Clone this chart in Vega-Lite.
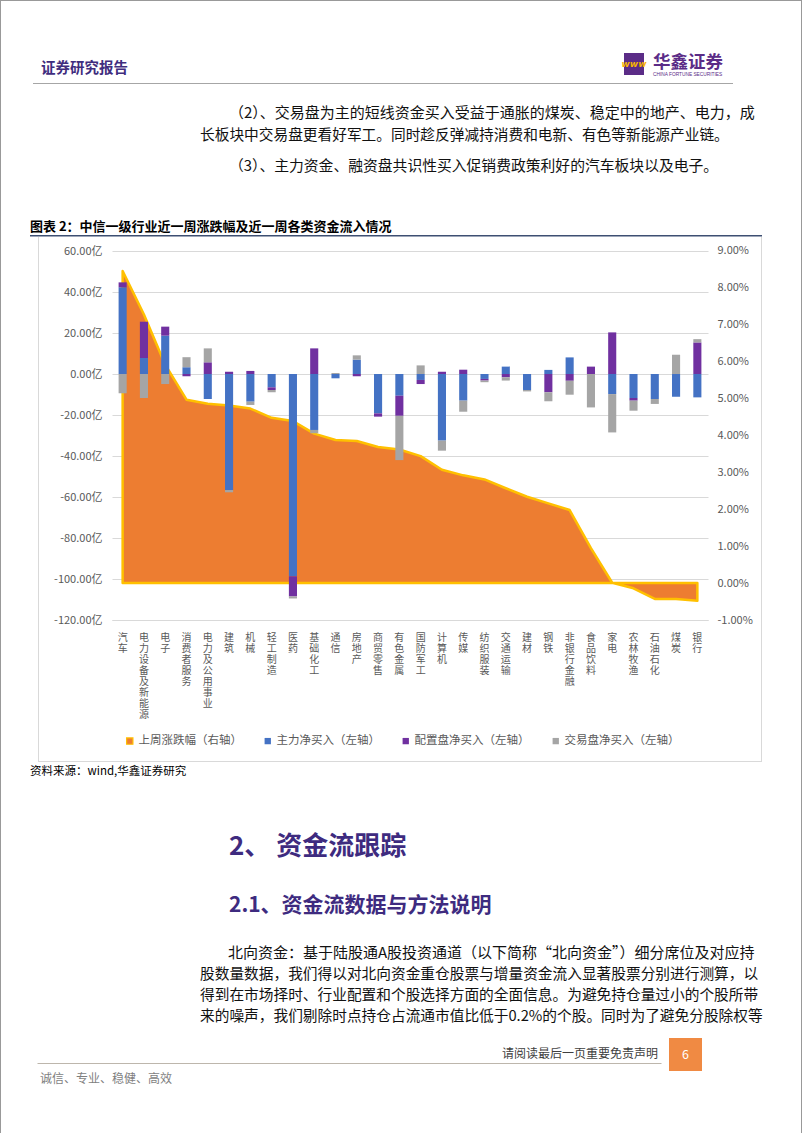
{
  "$schema": "https://vega.github.io/schema/vega-lite/v6.json",
  "background": "#ffffff",
  "padding": 0,
  "autosize": {"type": "pad"},
  "spacing": 0,
  "bounds": "full",
  "resolve": {"scale": {"color": "independent"}, "legend": {"color": "independent"}},
  "config": {
    "view": {"stroke": null},
    "font": "Noto Sans CJK SC",
    "concat": {"spacing": 0}
  },
  "hconcat": [
    {"width": 1, "height": 1133, "view": {"fill": "#999999", "stroke": null}, "data": {"values": []}, "mark": "text"},
    {
      "spacing": 0,
      "bounds": "full",
      "resolve": {"scale": {"color": "independent"}, "legend": {"color": "independent"}},
      "vconcat": [
        {"width": 800, "height": 1, "view": {"fill": "#999999", "stroke": null}, "data": {"values": []}, "mark": "text"},
        {"width": 800, "height": 52, "data": {"values": []}, "mark": "text"},
        {
          "spacing": 0, "bounds": "flush",
          "hconcat": [
            {"width": 623, "height": 30, "data": {"values": []}, "mark": "text",
             "title": {"text": "证券研究报告", "orient": "bottom", "anchor": "start", "frame": "group", "baseline": "top", "offset": -20.9, "dx": 40, "fontSize": 14.5, "fontWeight": "bold", "color": "#3F2D7E"}},
            {"width": 20, "height": 22, "view": {"fill": "#5B2C87", "stroke": null},
             "data": {"values": [{"g": "www"}]},
             "mark": {"type": "text", "color": "#F7B500", "fontSize": 9, "fontWeight": "bold", "fontStyle": "italic", "font": "DejaVu Sans"},
             "encoding": {"text": {"field": "g"}}},
            {"width": 157, "height": 30, "data": {"values": []}, "mark": "text",
             "title": {"text": "华鑫证券", "subtitle": "CHINA FORTUNE SECURITIES", "orient": "bottom", "anchor": "start", "frame": "group", "baseline": "top", "offset": -28.7, "dx": 9, "fontSize": 17.5, "fontWeight": "bold", "color": "#5B2C87", "subtitleFontSize": 4.8, "subtitleColor": "#5B2C87", "subtitleFont": "Liberation Sans", "subtitlePadding": 0.4}}
          ]
        },
        {
          "spacing": 0, "bounds": "flush",
          "hconcat": [
            {"width": 32, "height": 1, "data": {"values": []}, "mark": "text"},
            {"width": 700, "height": 1, "view": {"fill": "#A6A6A6", "stroke": null}, "data": {"values": []}, "mark": "text"}
          ]
        },
        {"width": 800, "height": 37, "data": {"values": []}, "mark": "text",
         "title": {"text": "（2）、交易盘为主的短线资金买入受益于通胀的煤炭、稳定中的地产、电力，成", "orient": "bottom", "anchor": "start", "frame": "group", "baseline": "top", "offset": -15, "dx": 228, "fontSize": 15, "fontWeight": "normal", "color": "#111111"}},
        {"width": 800, "height": 29, "data": {"values": []}, "mark": "text",
         "title": {"text": "长板块中交易盘更看好军工。同时趁反弹减持消费和电新、有色等新能源产业链。", "orient": "bottom", "anchor": "start", "frame": "group", "baseline": "top", "offset": -22, "dx": 199, "fontSize": 14.7, "fontWeight": "normal", "color": "#111111"}},
        {"width": 800, "height": 65, "data": {"values": []}, "mark": "text",
         "title": {"text": "（3）、主力资金、融资盘共识性买入促销费政策利好的汽车板块以及电子。", "orient": "bottom", "anchor": "start", "frame": "group", "baseline": "top", "offset": -56, "dx": 228, "fontSize": 14.8, "fontWeight": "normal", "color": "#111111"}},
        {"width": 800, "height": 19.5, "data": {"values": []}, "mark": "text",
         "title": {"text": "图表 2：中信一级行业近一周涨跌幅及近一周各类资金流入情况", "orient": "bottom", "anchor": "start", "frame": "group", "baseline": "top", "offset": -13.8, "dx": 29, "fontSize": 13, "fontWeight": "bold", "color": "#000000"}},
        {
          "spacing": 0, "bounds": "flush",
          "hconcat": [
            {"width": 29, "height": 1.5, "data": {"values": []}, "mark": "text"},
            {"width": 732, "height": 1.5, "view": {"fill": "#3D4F72", "stroke": null}, "data": {"values": []}, "mark": "text"}
          ]
        },
        {
          "spacing": 0, "bounds": "flush",
          "resolve": {"scale": {"color": "independent"}, "legend": {"color": "independent"}},
          "hconcat": [
            {"width": 37, "height": 524, "data": {"values": []}, "mark": "text"},
            {"width": 1, "height": 524, "view": {"fill": "#D9D9D9", "stroke": null}, "data": {"values": []}, "mark": "text"},
            {"width": 73, "height": 524, "data": {"values": []}, "mark": "text"},
            {
              "width": 596,
              "height": 383,
              "data": {"values": [
                {"industry": "汽车", "上周涨跌幅（右轴）": 8.46, "主力净买入（左轴）": 42.3, "配置盘净买入（左轴）": 2.4, "交易盘净买入（左轴）": -9.4},
                {"industry": "电力设备及新能源", "上周涨跌幅（右轴）": 7.28, "主力净买入（左轴）": 7.8, "配置盘净买入（左轴）": 17.7, "交易盘净买入（左轴）": -11.7},
                {"industry": "电子", "上周涨跌幅（右轴）": 5.92, "主力净买入（左轴）": 18.7, "配置盘净买入（左轴）": 4.4, "交易盘净买入（左轴）": -4.9},
                {"industry": "消费者服务", "上周涨跌幅（右轴）": 4.97, "主力净买入（左轴）": 3.3, "配置盘净买入（左轴）": -1.1, "交易盘净买入（左轴）": 4.9},
                {"industry": "电力及公用事业", "上周涨跌幅（右轴）": 4.86, "主力净买入（左轴）": -12.2, "配置盘净买入（左轴）": 5.7, "交易盘净买入（左轴）": 6.8},
                {"industry": "建筑", "上周涨跌幅（右轴）": 4.81, "主力净买入（左轴）": -56.6, "配置盘净买入（左轴）": 1.1, "交易盘净买入（左轴）": -1.1},
                {"industry": "机械", "上周涨跌幅（右轴）": 4.73, "主力净买入（左轴）": -13.5, "配置盘净买入（左轴）": 1.5, "交易盘净买入（左轴）": -1.6},
                {"industry": "轻工制造", "上周涨跌幅（右轴）": 4.48, "主力净买入（左轴）": -6.5, "配置盘净买入（左轴）": -1.3, "交易盘净买入（左轴）": -1.1},
                {"industry": "医药", "上周涨跌幅（右轴）": 4.39, "主力净买入（左轴）": -98.7, "配置盘净买入（左轴）": -9.8, "交易盘净买入（左轴）": -1.0},
                {"industry": "基础化工", "上周涨跌幅（右轴）": 4.05, "主力净买入（左轴）": -27.3, "配置盘净买入（左轴）": 12.5, "交易盘净买入（左轴）": -1.6},
                {"industry": "通信", "上周涨跌幅（右轴）": 3.88, "主力净买入（左轴）": -2.1, "配置盘净买入（左轴）": 0, "交易盘净买入（左轴）": 0.5},
                {"industry": "房地产", "上周涨跌幅（右轴）": 3.85, "主力净买入（左轴）": 7.0, "配置盘净买入（左轴）": -1.1, "交易盘净买入（左轴）": 2.1},
                {"industry": "商贸零售", "上周涨跌幅（右轴）": 3.69, "主力净买入（左轴）": -19.2, "配置盘净买入（左轴）": -1.6, "交易盘净买入（左轴）": 0},
                {"industry": "有色金属", "上周涨跌幅（右轴）": 3.62, "主力净买入（左轴）": -10.6, "配置盘净买入（左轴）": -9.8, "交易盘净买入（左轴）": -21.6},
                {"industry": "国防军工", "上周涨跌幅（右轴）": 3.44, "主力净买入（左轴）": -2.9, "配置盘净买入（左轴）": -2.0, "交易盘净买入（左轴）": 4.2},
                {"industry": "计算机", "上周涨跌幅（右轴）": 3.07, "主力净买入（左轴）": -32.5, "配置盘净买入（左轴）": 1.1, "交易盘净买入（左轴）": -4.9},
                {"industry": "传媒", "上周涨跌幅（右轴）": 2.92, "主力净买入（左轴）": -13.0, "配置盘净买入（左轴）": 2.1, "交易盘净买入（左轴）": -5.4},
                {"industry": "纺织服装", "上周涨跌幅（右轴）": 2.81, "主力净买入（左轴）": -2.4, "配置盘净买入（左轴）": -0.8, "交易盘净买入（左轴）": -0.8},
                {"industry": "交通运输", "上周涨跌幅（右轴）": 2.57, "主力净买入（左轴）": 3.6, "配置盘净买入（左轴）": -1.6, "交易盘净买入（左轴）": -1.6},
                {"industry": "建材", "上周涨跌幅（右轴）": 2.34, "主力净买入（左轴）": -7.8, "配置盘净买入（左轴）": 0, "交易盘净买入（左轴）": -0.7},
                {"industry": "钢铁", "上周涨跌幅（右轴）": 2.16, "主力净买入（左轴）": 2.0, "配置盘净买入（左轴）": -8.9, "交易盘净买入（左轴）": -4.4},
                {"industry": "非银行金融", "上周涨跌幅（右轴）": 1.98, "主力净买入（左轴）": 8.1, "配置盘净买入（左轴）": -3.3, "交易盘净买入（左轴）": -6.8},
                {"industry": "食品饮料", "上周涨跌幅（右轴）": 0.95, "主力净买入（左轴）": 0, "配置盘净买入（左轴）": 3.6, "交易盘净买入（左轴）": -16.3},
                {"industry": "家电", "上周涨跌幅（右轴）": 0.01, "主力净买入（左轴）": -9.8, "配置盘净买入（左轴）": 20.3, "交易盘净买入（左轴）": -18.7},
                {"industry": "农林牧渔", "上周涨跌幅（右轴）": -0.14, "主力净买入（左轴）": -11.7, "配置盘净买入（左轴）": -1.3, "交易盘净买入（左轴）": -4.9},
                {"industry": "石油石化", "上周涨跌幅（右轴）": -0.43, "主力净买入（左轴）": -12.2, "配置盘净买入（左轴）": 0, "交易盘净买入（左轴）": -2.4},
                {"industry": "煤炭", "上周涨跌幅（右轴）": -0.43, "主力净买入（左轴）": -11.1, "配置盘净买入（左轴）": 0, "交易盘净买入（左轴）": 9.4},
                {"industry": "银行", "上周涨跌幅（右轴）": -0.48, "主力净买入（左轴）": -11.4, "配置盘净买入（左轴）": 15.4, "交易盘净买入（左轴）": 1.6}
              ]},
              "encoding": {
                "x": {
                  "field": "industry", "type": "nominal", "sort": null,
                  "scale": {"paddingInner": 0.62, "paddingOuter": 0.31},
                  "axis": {
                    "orient": "bottom", "title": null, "labelAngle": 0, "ticks": false, "tickSize": 0,
                    "labelExpr": "split(datum.label, '')",
                    "labelFontSize": 10, "labelLineHeight": 11, "labelBaseline": "top", "labelPadding": 12.5,
                    "labelColor": "#595959", "labelOverlap": false, "labelLimit": 0,
                    "domain": true, "domainColor": "#D9D9D9", "grid": false
                  }
                }
              },
              "layer": [
                {
                  "mark": {"type": "area", "stroke": "#FFC000", "strokeWidth": 2.5, "strokeJoin": "round", "opacity": 1, "fillOpacity": 1},
                  "encoding": {
                    "y": {
                      "field": "上周涨跌幅（右轴）", "type": "quantitative",
                      "scale": {"domain": [-1, 9.3794], "nice": false, "zero": false},
                      "axis": {
                        "orient": "right", "title": null, "values": [-1, 0, 1, 2, 3, 4, 5, 6, 7, 8, 9],
                        "labelExpr": "replace(format(datum.value, '.2f'), '−', '-') + '%'",
                        "grid": false, "domain": false, "ticks": false, "tickSize": 0,
                        "labelPadding": 9, "labelFontSize": 11, "labelColor": "#595959"
                      }
                    },
                    "y2": {"datum": 0},
                    "color": {
                      "datum": "上周涨跌幅（右轴）", "type": "nominal",
                      "scale": {
                        "domain": ["上周涨跌幅（右轴）", "主力净买入（左轴）", "配置盘净买入（左轴）", "交易盘净买入（左轴）"],
                        "range": ["#ED7D31", "#4472C4", "#7030A0", "#A5A5A5"]
                      },
                      "legend": {
                        "orient": "bottom", "direction": "horizontal", "title": null,
                        "symbolType": "square", "symbolSize": 40, "labelFontSize": 11.5, "labelColor": "#595959",
                        "columnPadding": 20, "padding": 12, "offset": 3, "labelOffset": 3,
                        "encode": {"symbols": {"update": {"stroke": {"signal": "datum.value === '上周涨跌幅（右轴）' ? '#FFC000' : 'transparent'"}, "strokeWidth": {"value": 1.2}}}}
                      }
                    }
                  }
                },
                {
                  "transform": [
                    {"fold": ["主力净买入（左轴）", "配置盘净买入（左轴）", "交易盘净买入（左轴）"], "as": ["series", "value"]},
                    {"calculate": "indexof(['主力净买入（左轴）', '配置盘净买入（左轴）', '交易盘净买入（左轴）'], datum.series)", "as": "seq"}
                  ],
                  "mark": {"type": "bar"},
                  "encoding": {
                    "y": {
                      "field": "value", "type": "quantitative", "stack": "zero",
                      "scale": {"domain": [-120, 66.83], "nice": false, "zero": false},
                      "axis": {
                        "orient": "left", "title": null, "values": [-120, -100, -80, -60, -40, -20, 0, 20, 40, 60],
                        "labelExpr": "replace(format(datum.value, '.2f'), '−', '-') + '亿'",
                        "grid": true, "gridColor": "#D9D9D9", "gridWidth": 1, "domain": false, "ticks": false, "tickSize": 0,
                        "labelPadding": 10, "labelFontSize": 11, "labelColor": "#595959"
                      }
                    },
                    "color": {
                      "field": "series", "type": "nominal",
                      "scale": {
                        "domain": ["上周涨跌幅（右轴）", "主力净买入（左轴）", "配置盘净买入（左轴）", "交易盘净买入（左轴）"],
                        "range": ["#ED7D31", "#4472C4", "#7030A0", "#A5A5A5"]
                      },
                      "legend": {
                        "orient": "bottom", "direction": "horizontal", "title": null,
                        "symbolType": "square", "symbolSize": 40, "labelFontSize": 11.5, "labelColor": "#595959",
                        "columnPadding": 20, "padding": 12, "offset": 3, "labelOffset": 3,
                        "encode": {"symbols": {"update": {"stroke": {"signal": "datum.value === '上周涨跌幅（右轴）' ? '#FFC000' : 'transparent'"}, "strokeWidth": {"value": 1.2}}}}
                      }
                    },
                    "order": {"field": "seq", "type": "quantitative"}
                  }
                }
              ],
              "resolve": {"scale": {"y": "independent"}}
            },
            {"width": 53, "height": 524, "data": {"values": []}, "mark": "text"},
            {"width": 1, "height": 524, "view": {"fill": "#D9D9D9", "stroke": null}, "data": {"values": []}, "mark": "text"}
          ]
        },
        {
          "spacing": 0, "bounds": "flush",
          "hconcat": [
            {"width": 37, "height": 1, "data": {"values": []}, "mark": "text"},
            {"width": 724, "height": 1, "view": {"fill": "#D9D9D9", "stroke": null}, "data": {"values": []}, "mark": "text"}
          ]
        },
        {"width": 800, "height": 64, "data": {"values": []}, "mark": "text",
         "title": {"text": "资料来源：wind,华鑫证券研究", "orient": "bottom", "anchor": "start", "frame": "group", "baseline": "top", "offset": -59.7, "dx": 29, "fontSize": 11.5, "fontWeight": "normal", "color": "#000000"}},
        {"width": 800, "height": 113, "data": {"values": []}, "mark": "text",
         "title": {"text": "2、 资金流跟踪", "subtitle": "2.1、资金流数据与方法说明", "orient": "bottom", "anchor": "start", "frame": "group", "baseline": "top", "offset": -105.2, "dx": 228, "fontSize": 26, "fontWeight": "bold", "color": "#3E2B7F", "subtitleFontSize": 21, "subtitleFontWeight": "bold", "subtitleColor": "#3E2B7F", "subtitlePadding": 35.6}},
        {"width": 800, "height": 22, "data": {"values": []}, "mark": "text",
         "title": {"text": "北向资金：基于陆股通A股投资通道（以下简称“北向资金”）细分席位及对应持", "orient": "bottom", "anchor": "start", "frame": "group", "baseline": "top", "offset": -15, "dx": 227, "fontSize": 15, "fontWeight": "normal", "color": "#111111"}},
        {"width": 800, "height": 77, "data": {"values": []}, "mark": "text",
         "title": {
           "text": ["股数量数据，我们得以对北向资金重仓股票与增量资金流入显著股票分别进行测算，以", "得到在市场择时、行业配置和个股选择方面的全面信息。为避免持仓量过小的个股所带", "来的噪声，我们剔除时点持仓占流通市值比低于0.2%的个股。同时为了避免分股除权等"],
           "orient": "bottom", "anchor": "start", "frame": "group", "baseline": "top",
           "offset": -71, "dx": 199, "fontSize": 14.7, "lineHeight": 21, "fontWeight": "normal", "color": "#111111"
         }},
        {
          "spacing": 0, "bounds": "flush",
          "hconcat": [
            {"width": 36, "height": 25, "data": {"values": []}, "mark": "text"},
            {"width": 624, "height": 25, "data": {"values": []}, "mark": "text",
             "encoding": {"x": {"datum": 0, "type": "quantitative", "scale": {"domain": [0, 1]}, "axis": {"orient": "bottom", "labels": false, "ticks": false, "grid": false, "title": null, "domainColor": "#BDB6AC", "domainWidth": 1}}},
             "title": {"text": "请阅读最后一页重要免责声明", "orient": "bottom", "anchor": "end", "frame": "group", "baseline": "top", "offset": -14.4, "dx": -3, "fontSize": 12, "fontWeight": "normal", "color": "#404040"}},
            {"width": 8, "height": 25, "data": {"values": []}, "mark": "text"},
            {"width": 33, "height": 33, "view": {"fill": "#F08A43", "stroke": null},
             "data": {"values": [{"page": "6"}]},
             "mark": {"type": "text", "color": "#FFFFFF", "fontSize": 12.5},
             "encoding": {"text": {"field": "page"}}},
            {"width": 99, "height": 33, "data": {"values": []}, "mark": "text"}
          ]
        },
        {"width": 800, "height": 30, "data": {"values": []}, "mark": "text",
         "title": {"text": "诚信、专业、稳健、高效", "orient": "bottom", "anchor": "start", "frame": "group", "baseline": "top", "offset": -26.9, "dx": 39, "fontSize": 12, "fontWeight": "normal", "color": "#7F7F7F"}},
        {"width": 800, "height": 32, "data": {"values": []}, "mark": "text"},
        {"width": 800, "height": 1, "view": {"fill": "#999999", "stroke": null}, "data": {"values": []}, "mark": "text"}
      ]
    },
    {"width": 1, "height": 1133, "view": {"fill": "#999999", "stroke": null}, "data": {"values": []}, "mark": "text"}
  ]
}
